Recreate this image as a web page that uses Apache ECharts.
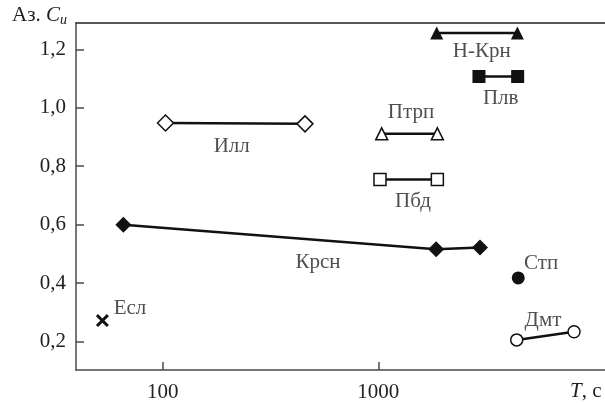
<!DOCTYPE html>
<html><head><meta charset="utf-8">
<script src="https://cdn.jsdelivr.net/npm/echarts@6/dist/echarts.min.js"></script>
<style>html,body{margin:0;padding:0;background:#fff}#c{width:605px;height:403px}</style>
</head><body><div id="c"></div>
<script>
// Data (T in seconds, log scale; Аз. C_u)
const xTicks = [100, 1000];
const yTicks = [0.2, 0.4, 0.6, 0.8, 1.0, 1.2];
const esl  = [[52.5, 0.272]];
const krsn = [[65.7, 0.600], [1854, 0.516], [2963, 0.522]];
const ill  = [[103, 0.948], [457, 0.945]];
const ptrp = [[1037, 0.911], [1879, 0.911]];
const pbd  = [[1018, 0.755], [1879, 0.755]];
const nkrn = [[1866, 1.256], [4416, 1.256]];
const plv  = [[2930, 1.107], [4430, 1.107]];
const stp  = [[4457, 0.418]];
const dmt  = [[4385, 0.206], [8090, 0.234]];
const labelNames = ['Есл', 'Крсн', 'Илл', 'Птрп', 'Пбд', 'Н-Крн', 'Плв', 'Стп', 'Дмт'];
const labelX = [70.5, 525, 209, 1418, 1449, 3018, 3697, 5688, 5808];
const labelY = [0.315, 0.472, 0.867, 0.983, 0.680, 1.192, 1.031, 0.468, 0.272];

const FS = 21;
const F = '21px "Liberation Serif"';
const FI = 'italic 21px "Liberation Serif"';
const axisColor = '#4a4a4a';
const crossPath = 'path://M0,1.6 L1.6,0 L5,3.4 L8.4,0 L10,1.6 L6.6,5 L10,8.4 L8.4,10 L5,6.6 L1.6,10 L0,8.4 L3.4,5 Z';
const RICH = { t: { font: F, fontFamily: 'Liberation Serif', fontSize: FS, color: '#222' } };

function lineSeries(data, symbol, size, filled) {
  return {
    type: 'line', data: data, symbol: symbol, symbolSize: size,
    lineStyle: { color: '#111', width: 2.5 },
    itemStyle: filled ? { color: '#111', borderColor: '#111', borderWidth: 0 }
                      : { color: '#fff', borderColor: '#111', borderWidth: 1.5 },
    z: 3, animation: false
  };
}

const chart = echarts.init(document.getElementById('c'));
chart.setOption({
  animation: false,
  grid: { left: 76, right: 0, top: 23, bottom: 32 },
  xAxis: [{
    type: 'log', min: 39.6, max: 11260,
    axisLine: { lineStyle: { color: axisColor, width: 1.5 } },
    axisTick: { inside: true, length: 8, lineStyle: { color: axisColor, width: 1.5 }, customValues: xTicks },
    axisLabel: { customValues: xTicks, color: '#222', fontFamily: 'Liberation Serif', fontSize: FS, margin: 12,
      rich: RICH, formatter: v => '{t|' + String(Math.round(v)) + '}' },
    splitLine: { show: false }, minorTick: { show: false }
  }, {
    type: 'log', min: 39.6, max: 11260, position: 'top',
    axisLine: { show: true, lineStyle: { color: '#222', width: 1.5 } },
    axisTick: { show: false }, axisLabel: { show: false }, splitLine: { show: false }
  }],
  yAxis: {
    type: 'value', min: 0.103, max: 1.29,
    axisLine: { show: true, lineStyle: { color: axisColor, width: 1.5 } },
    axisTick: { inside: true, length: 8, lineStyle: { color: axisColor, width: 1.5 }, customValues: yTicks },
    axisLabel: { customValues: yTicks, color: '#222', fontFamily: 'Liberation Serif', fontSize: FS, margin: 10,
      rich: RICH, formatter: v => '{t|' + v.toFixed(1).replace('.', ',') + '}' },
    splitLine: { show: false }
  },
  series: [
    lineSeries(esl, crossPath, 13, true),
    lineSeries(krsn, 'diamond', 16, true),
    lineSeries(ill, 'diamond', 16, false),
    lineSeries(ptrp, 'triangle', 12, false),
    lineSeries(pbd, 'rect', 12, false),
    lineSeries(nkrn, 'triangle', 13, true),
    lineSeries(plv, 'rect', 13, true),
    lineSeries(stp, 'circle', 13, true),
    lineSeries(dmt, 'circle', 12, false),
    {
      type: 'scatter', symbolSize: 0,
      data: labelNames.map((n, i) => ({ value: [labelX[i], labelY[i]], name: n })),
      label: { show: true, position: 'inside', color: '#222', fontFamily: 'Liberation Serif', fontSize: FS,
        rich: RICH, formatter: p => '{t|' + p.name + '}' }
    }
  ],
  graphic: [
    { type: 'text', left: 12, top: 5, z: 10,
      style: { text: '{a|Аз.}{b| C}{c|u}', fill: '#222', font: F,
        rich: {
          a: { font: F, fill: '#222' },
          b: { font: FI, fill: '#222' },
          c: { font: 'italic 14px "Liberation Serif"', fill: '#222', padding: [10, 0, 0, 0] }
        } } },
    { type: 'text', left: 570, top: 381, z: 10,
      style: { text: '{b|T}{a|, с}', fill: '#222', font: F,
        rich: {
          a: { font: F, fill: '#222' },
          b: { font: FI, fill: '#222' }
        } } }
  ]
});
</script></body></html>
